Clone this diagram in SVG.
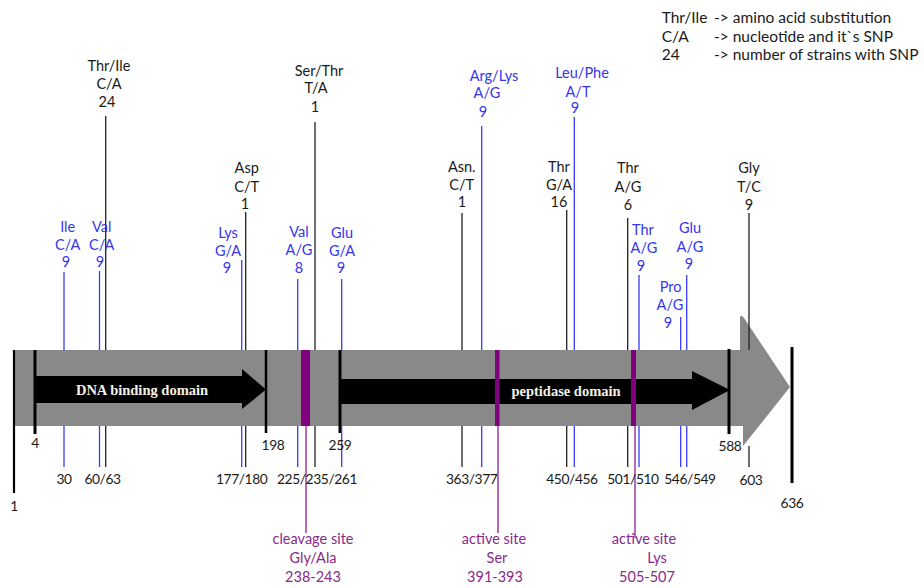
<svg xmlns="http://www.w3.org/2000/svg" width="924" height="588" viewBox="0 0 924 588">
<defs>
<style>
text{font-family:Lato,"Open Sans","Noto Sans",sans-serif;font-size:14.5px;text-anchor:middle}
.k{fill:#1a1a1a}
.n{fill:#1a1a1a;font-size:13.8px;letter-spacing:-0.4px}
.b{fill:#3535f0}
.p{fill:#8a2a8a}
.lg{font-size:15.5px;text-anchor:start;fill:#1a1a1a}
.dom{font-family:"Liberation Serif","DejaVu Serif",serif;font-weight:bold;fill:#f4f0e4}
.lk{stroke:#222;stroke-width:1.3;fill:none}
.lb{stroke:#3a3af5;stroke-width:1.3;fill:none}
.lp{stroke:#a048a8;stroke-width:1.6;fill:none}
.thick{stroke:#000;stroke-width:3;fill:none}
</style>
</defs>
<rect width="924" height="588" fill="#fff"/>

<g id="backbone">
<path d="M14,350 H740 V319 Q740,313 744,318 L790,387 L743,446 V426 H14 Z" fill="#898989"/>
</g>

<g id="dna-binding-domain">
<polygon points="35,376 242,376 242,369 266,389.5 242,409 242,403 35,403" fill="#000"/>
<text class="dom" x="142" y="394.5" font-size="15">DNA binding domain</text>
</g>

<g id="peptidase-domain">
<polygon points="341,379 692,379 692,371 730,390 692,410 692,404 341,404" fill="#000"/>
<text class="dom" x="566" y="396" font-size="16">peptidase domain</text>
</g>

<g id="cleavage-site">
<rect x="301" y="350" width="9" height="76" fill="#800080"/>
<text class="p" x="313" y="544">cleavage site</text>
<text class="p" x="313" y="563">Gly/Ala</text>
<text class="p" x="313" y="582">238-243</text>
</g>
<g id="active-site-ser">
<rect x="495" y="350" width="4.5" height="76" fill="#800080"/>
<text class="p" x="494" y="544">active site</text>
<text class="p" x="497" y="563">Ser</text>
<text class="p" x="495" y="582">391-393</text>
</g>
<g id="active-site-lys">
<rect x="631" y="350" width="5" height="76" fill="#800080"/>
<text class="p" x="644" y="544">active site</text>
<text class="p" x="657" y="563">Lys</text>
<text class="p" x="647" y="582">505-507</text>
</g>

<g id="connectors">
<line class="thick" x1="14" y1="350" x2="14" y2="493" style="stroke-width:2.2"/>
<line class="thick" x1="35" y1="350" x2="35" y2="434"/>
<line class="thick" x1="266" y1="350" x2="266" y2="433" style="stroke-width:2.5"/>
<line class="thick" x1="340" y1="350" x2="340" y2="433"/>
<line class="thick" x1="729" y1="349" x2="729" y2="434"/>
<line class="thick" x1="792" y1="347" x2="792" y2="483"/>
<line class="lp" x1="306" y1="426" x2="306" y2="533"/>
<line class="lp" x1="498" y1="426" x2="498" y2="533"/>
<line class="lp" x1="635" y1="426" x2="635" y2="538"/>
<path class="lk" d="M105.7,116V350M105.7,426V467"/>
<path class="lk" d="M245.7,212V350M245.7,426V467"/>
<path class="lk" d="M315,122V350M315,426V467"/>
<path class="lk" d="M462,213V350M462,426V467"/>
<path class="lk" d="M566.7,210V350M566.7,426V467"/>
<path class="lk" d="M627.7,218V350M627.7,426V467"/>
<path class="lk" d="M749,213V350M749,446V467"/>
<path class="lb" d="M64,272V350M64,426V467"/>
<path class="lb" d="M99.5,271V350M99.5,426V467"/>
<path class="lb" d="M241.7,260V350M241.7,426V467"/>
<path class="lb" d="M297.7,279V350M297.7,426V467"/>
<path class="lb" d="M341.7,279V350M341.7,426V467"/>
<path class="lb" d="M481.7,126V350M481.7,426V467"/>
<path class="lb" d="M574.3,117V350M574.3,426V467"/>
<path class="lb" d="M639,275V350M639,426V467"/>
<path class="lb" d="M686.7,275V350M686.7,426V467"/>
<path class="lb" d="M680.7,317V350M680.7,426V467"/>
</g>

<g id="positions">
<text class="n" x="14" y="511">1</text>
<text class="n" x="35" y="448">4</text>
<text class="n" x="273" y="450">198</text>
<text class="n" x="340" y="450">259</text>
<text class="n" x="730" y="451">588</text>
<text class="n" x="792" y="508">636</text>
<text class="n" x="64" y="484">30</text>
<text class="n" x="102.5" y="484">60/63</text>
<text class="n" x="241.7" y="484">177/180</text>
<text class="n" x="317" y="484">225/235/261</text>
<text class="n" x="471.7" y="484">363/377</text>
<text class="n" x="572" y="484">450/456</text>
<text class="n" x="633" y="484">501/510</text>
<text class="n" x="690" y="484">546/549</text>
<text class="n" x="751" y="485">603</text>
</g>

<g id="snp-thr-ile"><text class="k" x="109" y="71">Thr/Ile</text><text class="k" x="109" y="89">C/A</text><text class="k" x="107" y="107">24</text></g>
<g id="snp-asp"><text class="k" x="246.7" y="173">Asp</text><text class="k" x="246.7" y="192">C/T</text><text class="k" x="245" y="209">1</text></g>
<g id="snp-ser-thr"><text class="k" x="319" y="76">Ser/Thr</text><text class="k" x="316" y="93">T/A</text><text class="k" x="315" y="112">1</text></g>
<g id="snp-asn"><text class="k" x="461.7" y="172">Asn.</text><text class="k" x="461.7" y="190">C/T</text><text class="k" x="462" y="207">1</text></g>
<g id="snp-thr-450"><text class="k" x="559" y="172">Thr</text><text class="k" x="559" y="190">G/A</text><text class="k" x="559" y="207">16</text></g>
<g id="snp-thr-501"><text class="k" x="628" y="173">Thr</text><text class="k" x="628" y="192">A/G</text><text class="k" x="628" y="210">6</text></g>
<g id="snp-gly"><text class="k" x="749" y="173">Gly</text><text class="k" x="749" y="192">T/C</text><text class="k" x="749" y="210">9</text></g>

<g id="snp-ile"><text class="b" x="67.7" y="232">Ile</text><text class="b" x="67.7" y="250">C/A</text><text class="b" x="66" y="267">9</text></g>
<g id="snp-val-60"><text class="b" x="101.7" y="232">Val</text><text class="b" x="101.7" y="250">C/A</text><text class="b" x="100" y="267">9</text></g>
<g id="snp-lys"><text class="b" x="228" y="238">Lys</text><text class="b" x="228" y="256">G/A</text><text class="b" x="227" y="273">9</text></g>
<g id="snp-val-225"><text class="b" x="299" y="237">Val</text><text class="b" x="299" y="255">A/G</text><text class="b" x="299" y="273">8</text></g>
<g id="snp-glu-261"><text class="b" x="342" y="238">Glu</text><text class="b" x="342" y="256">G/A</text><text class="b" x="341" y="273">9</text></g>
<g id="snp-arg-lys"><text class="b" x="494" y="81">Arg/Lys</text><text class="b" x="487" y="98">A/G</text><text class="b" x="483" y="117">9</text></g>
<g id="snp-leu-phe"><text class="b" x="582" y="78">Leu/Phe</text><text class="b" x="578" y="97">A/T</text><text class="b" x="575" y="113">9</text></g>
<g id="snp-thr-510"><text class="b" x="643" y="235">Thr</text><text class="b" x="644" y="253">A/G</text><text class="b" x="641" y="271">9</text></g>
<g id="snp-glu-549"><text class="b" x="690" y="233">Glu</text><text class="b" x="690" y="252">A/G</text><text class="b" x="689" y="269">9</text></g>
<g id="snp-pro"><text class="b" x="670.7" y="292">Pro</text><text class="b" x="670" y="310">A/G</text><text class="b" x="668" y="328">9</text></g>

<g id="legend">
<text class="lg" x="661.7" y="23">Thr/Ile</text><text class="lg" x="714" y="23">-&gt; amino acid substitution</text>
<text class="lg" x="661.7" y="42">C/A</text><text class="lg" x="714" y="42">-&gt; nucleotide and it`s SNP</text>
<text class="lg" x="661.7" y="60">24</text><text class="lg" x="714" y="60">-&gt; number of strains with SNP</text>
</g>
</svg>
